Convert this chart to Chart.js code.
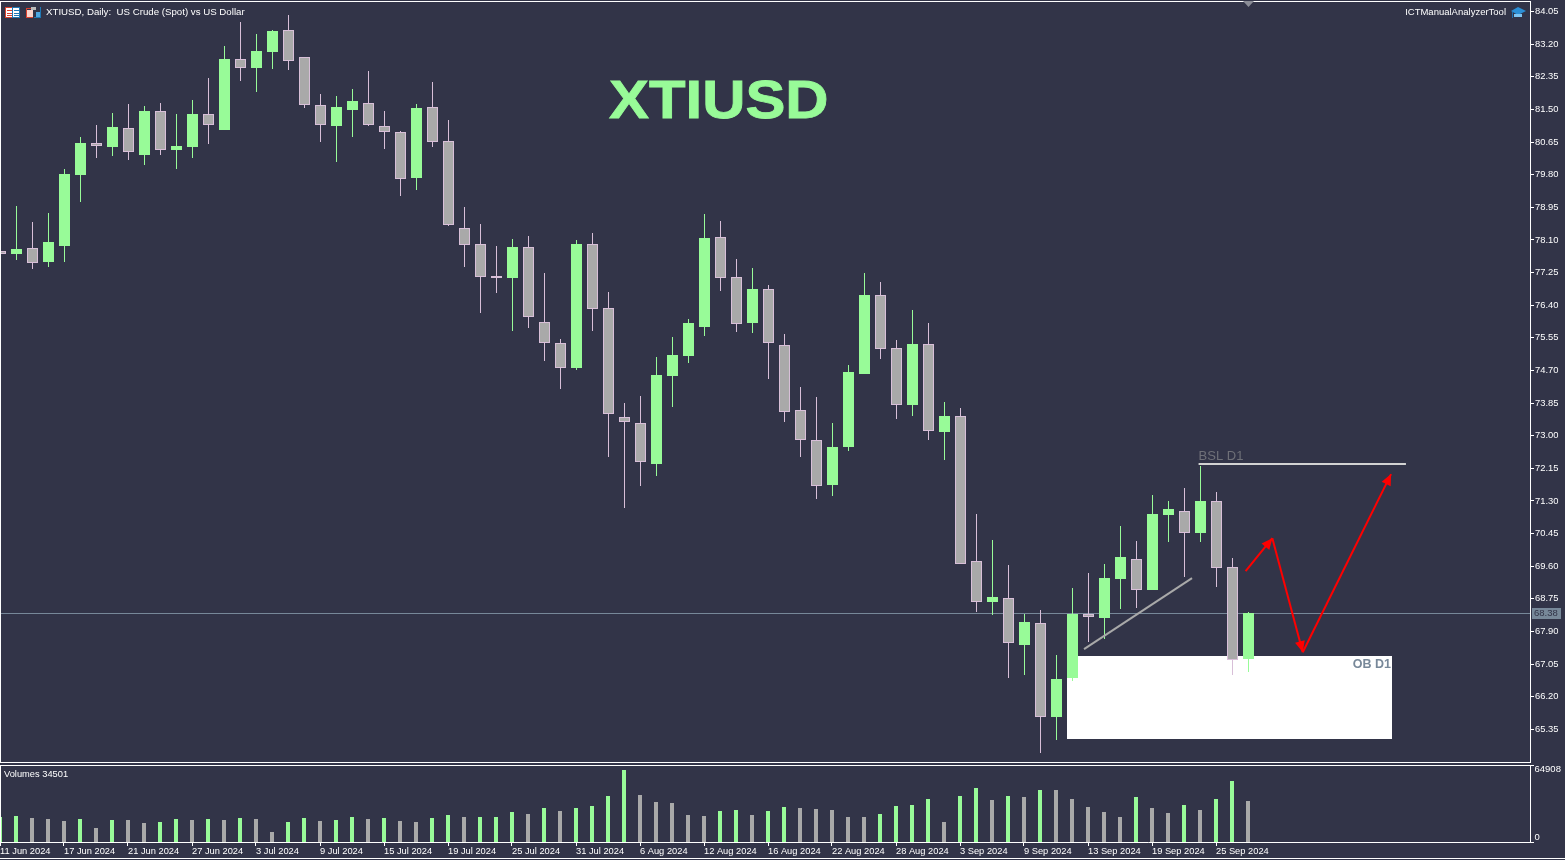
<!DOCTYPE html>
<html><head><meta charset="utf-8">
<script src="https://cdn.jsdelivr.net/npm/chart.js@4"></script>
<style>
html,body{margin:0;padding:0;background:#323448;width:1565px;height:860px;overflow:hidden}
canvas{position:absolute;left:0;display:block}
#main{top:0}#vol{top:763px}
</style></head><body>
<canvas id="main" width="1565" height="763"></canvas>
<canvas id="vol" width="1565" height="97"></canvas>
<script>
const opens=[77.81,77.73,77.89,77.53,77.94,79.79,80.62,80.52,81.02,80.31,81.46,80.44,80.52,81.38,80.96,82.81,82.58,82.99,83.57,82.87,81.61,81.07,81.48,81.67,81.07,80.91,79.71,81.56,80.68,78.41,77.99,77.16,77.11,77.92,75.96,75.41,74.76,77.99,76.33,73.49,73.33,72.26,74.56,75.08,75.83,78.18,77.13,75.94,76.82,75.36,73.67,72.89,71.72,72.71,74.61,76.67,75.28,73.80,75.39,73.10,73.51,69.74,68.67,68.77,67.55,68.12,65.67,66.69,68.36,68.25,69.27,69.79,68.98,70.93,71.04,70.46,71.30,69.58,67.18];
const highs=[77.81,78.98,78.57,78.80,79.95,80.78,81.09,81.41,81.64,81.59,81.67,81.38,81.74,82.32,83.15,83.78,83.46,83.57,83.96,82.87,81.90,81.85,82.03,82.50,81.46,80.94,81.64,82.21,81.22,78.96,78.52,77.94,78.12,78.20,77.24,75.52,78.10,78.28,76.74,73.85,74.03,75.05,75.57,76.04,78.77,78.59,77.60,77.37,76.93,75.65,74.27,74.01,73.33,74.84,77.24,77.00,75.49,76.27,75.94,73.88,73.72,70.96,70.28,69.63,68.36,68.46,67.29,69.03,69.42,69.66,70.65,70.26,71.46,71.30,71.64,72.21,71.53,69.81,68.41];
const lows=[77.73,77.58,77.34,77.39,77.53,79.09,80.23,80.29,80.18,80.05,80.31,79.95,80.23,80.60,80.96,82.24,81.95,82.55,82.53,81.54,80.65,80.13,80.78,81.07,80.47,79.24,79.40,80.52,78.46,77.39,76.20,76.72,75.73,75.81,74.94,74.22,74.71,75.73,72.45,71.12,71.69,71.95,73.75,74.89,75.60,76.77,75.70,75.68,74.48,73.36,72.45,71.35,71.43,72.60,74.61,75.00,73.43,73.51,72.89,72.37,69.66,68.41,68.33,66.69,66.77,64.73,65.07,66.61,67.63,67.70,68.49,68.51,68.98,70.23,69.32,70.23,69.06,66.77,66.84];
const closes=[77.73,77.86,77.50,78.05,79.82,80.62,80.55,81.04,80.39,81.46,80.44,80.55,81.38,81.09,82.81,82.58,83.02,83.54,82.76,81.61,81.09,81.56,81.72,81.09,80.91,79.69,81.54,80.65,78.49,77.97,77.13,77.11,77.92,76.09,75.41,74.76,77.99,76.30,73.57,73.36,72.31,74.58,75.10,75.94,78.15,77.11,75.91,76.82,75.41,73.62,72.89,71.69,72.71,74.66,76.67,75.26,73.80,75.39,73.12,73.51,69.66,68.67,68.80,67.60,68.15,65.67,66.66,68.36,68.28,69.29,69.84,68.98,70.96,71.09,70.46,71.30,69.55,67.16,68.38];
const volumes=[21038,21879,20196,19355,17672,19355,11781,18513,18513,15989,16830,19355,18513,19355,18513,20196,19355,8415,16830,20196,17672,18513,21038,19355,20196,17672,16830,20196,22721,21038,21038,21038,25245,23562,28611,26087,28611,30294,38709,60588,39551,33660,32819,22721,21879,26087,26928,22721,26087,29453,28611,27770,26928,21038,21038,23562,30294,31136,36185,16830,38709,45441,35343,38709,37868,43758,43758,36185,29453,25245,21038,37868,28611,24404,31136,26928,36185,51332,34501];
const volumeUpBars=[0,1,5,7,10,11,13,15,18,19,21,22,24,27,28,30,31,32,34,36,37,38,39,45,46,48,49,55,56,57,58,60,61,63,65,71,74,76,77];
const priceTicks=[84.05,83.20,82.35,81.50,80.65,79.80,78.95,78.10,77.25,76.40,75.55,74.70,73.85,73.00,72.15,71.30,70.45,69.60,68.75,67.90,67.05,66.20,65.35];
const volumeTicks=[0,64908];
const dateTickBars=[0,4,8,12,16,20,24,28,32,36,40,44,48,52,56,60,64,68,72,76];
const dateTickLabels=["11 Jun 2024","17 Jun 2024","21 Jun 2024","27 Jun 2024","3 Jul 2024","9 Jul 2024","15 Jul 2024","19 Jul 2024","25 Jul 2024","31 Jul 2024","6 Aug 2024","12 Aug 2024","16 Aug 2024","22 Aug 2024","28 Aug 2024","3 Sep 2024","9 Sep 2024","13 Sep 2024","19 Sep 2024","25 Sep 2024"];
const currentPrice=68.38;
const obBox=[66.66,86.97,67.26,65.10];
const bslLine=[[74.88,72.26],[87.84,72.26]];
const trendLine=[[67.72,67.44],[74.47,69.29]];
const arrowPath=[[77.82,69.47],[79.49,70.33],[81.39,67.36],[86.91,72.00]];

const GREEN='#98FB98',GRAY='#A9A9A9',THISTLE='#D8BFD8',BG='#323448',SLATE='#778899';
const FONT='"Liberation Sans"';
const idx=opens.map((_,i)=>i);
const isUp=i=>closes[i]>=opens[i];

function txt(ctx,s,x,y,font,color,align){ctx.font=font;ctx.fillStyle=color;ctx.textAlign=align||'left';ctx.textBaseline='middle';ctx.fillText(s,x,y);}
function hline(ctx,x0,y,x1,c){ctx.fillStyle=c;ctx.fillRect(x0,y,x1-x0,1);}
const noPad=s=>{s.paddingTop=0;s.paddingBottom=0;s.paddingLeft=0;s.paddingRight=0;};
const crisp={id:'crisp',beforeDatasetsDraw(c){
  c.getSortedVisibleDatasetMetas().forEach(m=>m.data.forEach(el=>{el.y=Math.round(el.y);el.base=Math.round(el.base);}));
}};

const underlay={id:'underlay',beforeDatasetsDraw(c){
  const {ctx,scales:{x,y}}=c;
  ctx.save();
  const bx=Math.round(x.getPixelForValue(obBox[0])),bx2=Math.round(x.getPixelForValue(obBox[1]));
  const by=Math.round(y.getPixelForValue(obBox[2])),by2=Math.round(y.getPixelForValue(obBox[3]));
  ctx.fillStyle='#FFFFFF';ctx.fillRect(bx,by,bx2-bx,by2-by);
  hline(ctx,0,Math.floor(y.getPixelForValue(currentPrice)),1530,SLATE);
  ctx.restore();
}};
const overlay={id:'overlay',afterDatasetsDraw(c){
  const {ctx,scales:{x,y}}=c;
  const px=p=>[x.getPixelForValue(p[0]),y.getPixelForValue(p[1])];
  ctx.save();
  // frame
  ctx.fillStyle='#FFFFFF';ctx.fillRect(0,1,1530,1);ctx.fillRect(0,1,1,761);ctx.fillRect(0,762,1530,1);
  // trend line
  ctx.lineCap='butt';
  ctx.strokeStyle=GRAY;ctx.lineWidth=2;ctx.beginPath();ctx.moveTo(...px(trendLine[0]));ctx.lineTo(...px(trendLine[1]));ctx.stroke();
  // BSL
  const [b0,by0]=px(bslLine[0]),[b1]=px(bslLine[1]);
  ctx.fillStyle='#D3D3D3';ctx.fillRect(b0,Math.round(by0)-1,b1-b0,2);
  txt(ctx,'BSL D1',b0,456.5,'13px '+FONT,'#6f7078');
  // arrows
  ctx.strokeStyle='#FF0000';ctx.fillStyle='#FF0000';ctx.lineWidth=2;
  for(let i=0;i<arrowPath.length-1;i++){
    const [a,b]=px(arrowPath[i]),[d,e]=px(arrowPath[i+1]);
    ctx.beginPath();ctx.moveTo(a,b);ctx.lineTo(d,e);ctx.stroke();
    const t=Math.atan2(e-b,d-a),L=11,W=5;
    const hx=d-L*Math.cos(t),hy=e-L*Math.sin(t);
    ctx.beginPath();ctx.moveTo(d,e);ctx.lineTo(hx-W*Math.sin(t),hy+W*Math.cos(t));ctx.lineTo(hx+W*Math.sin(t),hy-W*Math.cos(t));ctx.closePath();ctx.fill();
  }
  // labels
  txt(ctx,'OB D1',1391,664.5,'bold 12.5px '+FONT,SLATE,'right');
  ctx.save();ctx.translate(609,118);ctx.scale(1.13,1);ctx.font='bold 53px '+FONT;ctx.fillStyle=GREEN;ctx.strokeStyle=GREEN;ctx.lineWidth=0.8;ctx.lineJoin='miter';ctx.miterLimit=3;ctx.textAlign='left';ctx.textBaseline='alphabetic';ctx.fillText('XTIUSD',0,0);ctx.strokeText('XTIUSD',0,0);ctx.restore();
  txt(ctx,'XTIUSD, Daily:  US Crude (Spot) vs US Dollar',46,12.5,'9.7px '+FONT,'#FFFFFF');
  txt(ctx,'ICTManualAnalyzerTool',1506,12.5,'9.5px '+FONT,'#FFFFFF','right');
  // price tag
  const ty=Math.floor(y.getPixelForValue(currentPrice));
  ctx.fillStyle=SLATE;ctx.fillRect(1532,ty-5,29,11);
  txt(ctx,currentPrice.toFixed(2),1534,ty+0.5,'9.5px '+FONT,BG);
  // top triangle marker at last bar
  const mx=x.getPixelForValue(78);
  ctx.fillStyle='#8a8c96';ctx.beginPath();ctx.moveTo(mx-5.5,1);ctx.lineTo(mx+5.5,1);ctx.lineTo(mx,7);ctx.closePath();ctx.fill();
  // toolbar icons
  ctx.fillStyle='#FFFFFF';ctx.fillRect(6,8,14,10);
  ctx.strokeStyle='#D9412F';ctx.lineWidth=1;ctx.strokeRect(5.5,7.5,7,10);
  ctx.strokeStyle='#1F78B4';ctx.strokeRect(12.5,7.5,7,10);
  ctx.fillStyle='#D9412F';ctx.fillRect(7,10,5,1);ctx.fillRect(7,13,5,1);ctx.fillRect(7,15,5,1);
  ctx.fillStyle='#1F78B4';ctx.fillRect(14,10,5,1);ctx.fillRect(14,13,5,1);ctx.fillRect(14,15,5,1);
  ctx.fillStyle='#FBD5CC';ctx.fillRect(27,10,6,7);ctx.fillStyle='#D9412F';ctx.fillRect(26,8,1,10);ctx.fillRect(26,17,7,1);ctx.fillRect(26,8,5,1);
  ctx.fillStyle='#BBBBBB';ctx.fillRect(31,7,5,3);
  ctx.fillStyle='#4DA6E0';ctx.fillRect(36,12,5,5);ctx.fillStyle='#1F78B4';ctx.fillRect(40,7,1,11);ctx.fillRect(34,17,7,1);
  // hat icon
  ctx.fillStyle='#2B8FD6';ctx.beginPath();ctx.moveTo(1518,7);ctx.lineTo(1526,11);ctx.lineTo(1518,15);ctx.lineTo(1511,11);ctx.closePath();ctx.fill();
  ctx.fillStyle='#7CC4F2';ctx.fillRect(1514,14,8,3);ctx.fillStyle='#1F6FAE';ctx.fillRect(1512,12,1,6);
  ctx.restore();
}};
const volOverlay={id:'volOverlay',afterDraw(c){
  const {ctx,scales:{y}}=c;
  ctx.save();
  ctx.fillStyle='#FFFFFF';ctx.fillRect(0,2,1530,1);ctx.fillRect(0,2,1,77);ctx.fillRect(0,95,1565,1);
  txt(ctx,'Volumes '+volumes[volumes.length-1],4,11,'9.3px '+FONT,'#FFFFFF');
  txt(ctx,String(volumeTicks[1]),1534.5,y.getPixelForValue(volumeTicks[1])+4.5,'9.5px '+FONT,'#FFFFFF');
  txt(ctx,String(volumeTicks[0]),1534.5,y.getPixelForValue(volumeTicks[0])-5,'9.5px '+FONT,'#FFFFFF');
  ctx.restore();
}};

const axisY=(ticks,extra)=>Object.assign({position:'right',afterFit:s=>{s.width=35;noPad(s);},
  afterBuildTicks:s=>{s.ticks=ticks.map(v=>({value:v}));},
  grid:{drawOnChartArea:false,drawTicks:true,tickLength:4,color:'#FFFFFF',tickColor:'#FFFFFF'},
  border:{display:true,color:'#FFFFFF',width:1}},extra);

new Chart(document.getElementById('main'),{
  type:'bar',
  data:{datasets:[
    {label:'Body',order:1,grouped:false,barThickness:11,inflateAmount:0,borderSkipped:false,borderWidth:1,
      data:idx.map(i=>({x:i,y:[Math.min(opens[i],closes[i]),Math.max(opens[i],closes[i])]})),
      backgroundColor:idx.map(i=>isUp(i)?GREEN:GRAY),borderColor:idx.map(i=>isUp(i)?GREEN:THISTLE)},
    {label:'Wick',order:2,grouped:false,barThickness:1,inflateAmount:0,borderSkipped:false,borderWidth:0,
      data:idx.map(i=>({x:i,y:[lows[i],highs[i]]})),
      backgroundColor:idx.map(i=>isUp(i)?GREEN:THISTLE)}
  ]},
  options:{responsive:false,animation:false,devicePixelRatio:1,
    layout:{padding:{left:0,right:0,top:1,bottom:1}},
    plugins:{legend:{display:false},tooltip:{enabled:false},title:{display:false}},
    scales:{
      x:{type:'linear',display:false,offset:false,min:-0.03125,max:95.59375,grid:{offset:false}},
      y:axisY(priceTicks,{min:64.50,max:84.324,
        ticks:{color:'#FFFFFF',padding:1,font:{family:'Liberation Sans',size:9.4},callback:v=>v.toFixed(2)}})
    }},
  plugins:[crisp,underlay,overlay]
});

new Chart(document.getElementById('vol'),{
  type:'bar',
  data:{datasets:[{label:'Volumes',grouped:false,barThickness:4,inflateAmount:0,borderWidth:0,
    data:idx.map(i=>({x:i,y:volumes[i]})),
    backgroundColor:idx.map(i=>volumeUpBars.includes(i)?GREEN:GRAY)}]},
  options:{responsive:false,animation:false,devicePixelRatio:1,
    layout:{padding:{left:0,right:0,top:2,bottom:3}},
    plugins:{legend:{display:false},tooltip:{enabled:false},title:{display:false}},
    scales:{
      x:{type:'linear',offset:false,min:0,max:95.625,afterFit:s=>{s.height=15;noPad(s);},
        afterBuildTicks:s=>{s.ticks=dateTickBars.map(v=>({value:v}));},
        grid:{offset:false,drawOnChartArea:false,drawTicks:true,tickLength:4,color:'#FFFFFF',tickColor:'#FFFFFF'},
        border:{display:true,color:'#FFFFFF',width:1},
        ticks:{color:'#FFFFFF',align:'start',autoSkip:false,maxRotation:0,padding:0,font:{family:'Liberation Sans',size:9.3},
          callback:v=>dateTickLabels[dateTickBars.indexOf(v)]}},
      y:axisY(volumeTicks,{min:0,max:64908,ticks:{display:false}})
    }},
  plugins:[crisp,volOverlay]
});
</script></body></html>
